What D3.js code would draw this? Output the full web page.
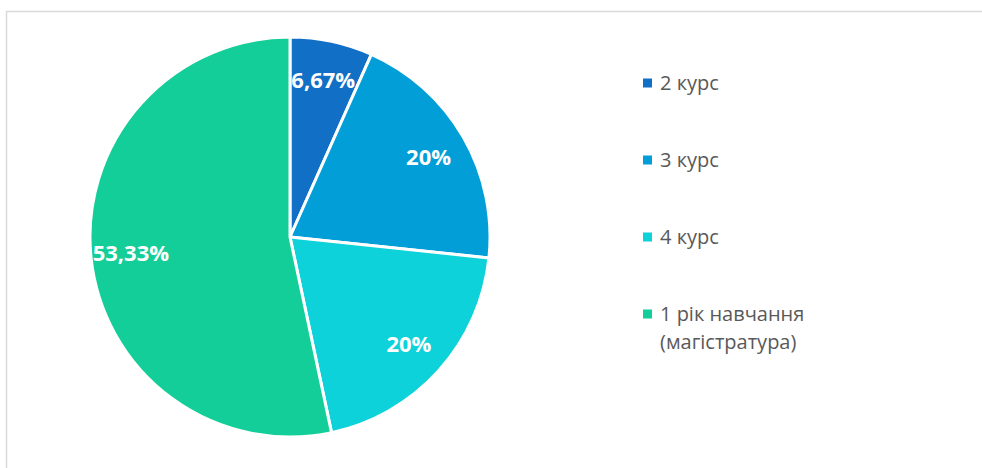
<!DOCTYPE html>
<html>
<head>
<meta charset="utf-8">
<script src="https://cdn.jsdelivr.net/npm/d3@7"></script>
<style>
  html, body { margin: 0; padding: 0; background: #fff; }
  svg { display: block; font-family: "Open Sans", "DejaVu Sans", sans-serif; }
</style>
</head>
<body>
<svg id="chart" width="982" height="468"></svg>
<script>
// Data
const categories = ["2 курс", "3 курс", "4 курс", "1 рік навчання (магістратура)"];
const values     = [6.67, 20, 20, 53.33];
const labels     = ["6,67%", "20%", "20%", "53,33%"];
const colors     = ["#116FC6", "#029ED7", "#0DD2D9", "#13CE98"];

const svg = d3.select("#chart");

// outer frame (cropped on right/bottom like the source image)
svg.append("rect")
  .attr("x", 6.5).attr("y", 11.5)
  .attr("width", 1000).attr("height", 500)
  .attr("fill", "none")
  .attr("stroke", "#d9d9d9")
  .attr("stroke-width", 1.5);

// pie
const cx = 290, cy = 237, R = 200;
const pie = d3.pie().sort(null).value(d => d);
const arc = d3.arc().innerRadius(0).outerRadius(R);
const labelArc = d3.arc().innerRadius(R * 0.8).outerRadius(R * 0.8);

const g = svg.append("g").attr("transform", `translate(${cx},${cy})`);
const arcs = pie(values);

g.selectAll("path")
  .data(arcs)
  .join("path")
    .attr("d", arc)
    .attr("fill", (d, i) => colors[i])
    .attr("stroke", "#fff")
    .attr("stroke-width", 3)
    .attr("stroke-linejoin", "round");

g.selectAll("text.lbl")
  .data(arcs)
  .join("text")
    .attr("class", "lbl")
    .attr("transform", d => `translate(${labelArc.centroid(d)})`)
    .attr("text-anchor", "middle")
    .attr("dy", "0.35em")
    .attr("fill", "#fff")
    .attr("font-weight", "bold")
    .attr("font-size", "22px")
    .text((d, i) => labels[i]);

// legend
const legend = svg.append("g").attr("transform", "translate(643,0)");
const rowY = d3.scalePoint().domain(categories).range([83, 314]);

categories.forEach((name, i) => {
  const row = legend.append("g").attr("transform", `translate(0,${rowY(name)})`);
  row.append("rect")
    .attr("x", 0).attr("y", -4.5)
    .attr("width", 9).attr("height", 9)
    .attr("fill", colors[i]);
  const t = row.append("text")
    .attr("x", 17).attr("y", 0)
    .attr("dy", "0.35em")
    .attr("fill", "#595959")
    .attr("font-size", "20px");
  if (i === 3) {
    t.append("tspan").attr("x", 17).text("1 рік навчання");
    t.append("tspan").attr("x", 17).attr("dy", "1.4em").text("(магістратура)");
  } else {
    t.text(name);
  }
});
</script>
</body>
</html>
